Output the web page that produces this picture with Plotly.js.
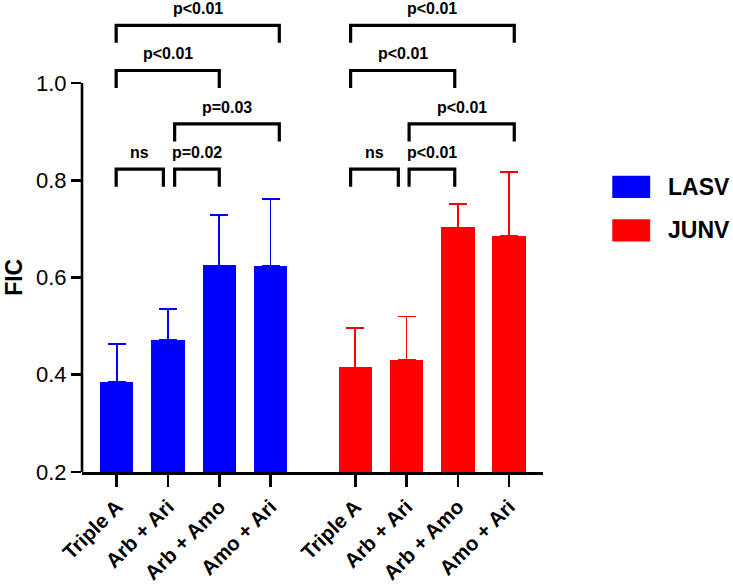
<!DOCTYPE html>
<html>
<head>
<meta charset="utf-8">
<script src="https://cdn.plot.ly/plotly-3.0.1.min.js"></script>
<style>html,body{margin:0;padding:0;background:#fff;}#chart{width:733px;height:588px;}</style>
</head>
<body>
<div id="chart"></div>
<script>
// ---- data ----
const categories = ['Triple A', 'Arb + Ari', 'Arb + Amo', 'Amo + Ari'];
const lasvFIC = [0.385, 0.472, 0.625, 0.623];
const lasvSD  = [0.079, 0.064, 0.104, 0.139];
const junvFIC = [0.415, 0.431, 0.703, 0.686];
const junvSD  = [0.081, 0.089, 0.049, 0.131];
const seriesNames = ['LASV', 'JUNV'];
const yTicks = [0.2, 0.4, 0.6, 0.8, 1.0];

// significance brackets: [xStart, xEnd, yLevel, label]
const bracketStart = [0.99, 0.99, 2.13, 0.99, 2.13, 5.56, 5.56, 6.70, 5.56, 6.70];
const bracketEnd   = [4.17, 3.00, 4.17, 1.91, 3.00, 8.75, 7.59, 8.75, 6.49, 7.59];
const bracketLevel = [1.119, 1.026, 0.916, 0.823, 0.823, 1.119, 1.026, 0.916, 0.823, 0.823];
const bracketLabel = ['p<0.01', 'p<0.01', 'p=0.03', 'ns', 'p=0.02', 'p<0.01', 'p<0.01', 'p<0.01', 'ns', 'p<0.01'];

// ---- layout helpers ----
const FONT = 'Liberation Sans, Arial, Helvetica, sans-serif';
const groupOffset = [1, 5.65];
const lasvX = categories.map((c, i) => i + groupOffset[0]);
const junvX = categories.map((c, i) => i + groupOffset[1]);
const colors = ['#0000FF', '#FF0000'];

function barTrace(x, y, err, color, name) {
  return {
    type: 'bar', x: x, y: y, name: name, width: 0.65,
    marker: {color: color, line: {width: 0}},
    error_y: {type: 'data', symmetric: false, array: err, arrayminus: err.map(() => 0),
              color: color, thickness: 1.8, width: 9},
    showlegend: false, hoverinfo: 'skip'
  };
}

const traces = [
  barTrace(lasvX, lasvFIC, lasvSD, colors[0], seriesNames[0]),
  barTrace(junvX, junvFIC, junvSD, colors[1], seriesNames[1])
];

const leg = 0.036;
const bx = [], by = [];
bracketStart.forEach((s, i) => {
  const e = bracketEnd[i], lv = bracketLevel[i];
  bx.push(s, s, e, e, null);
  by.push(lv - leg, lv, lv, lv - leg, null);
});
traces.push({type: 'scatter', mode: 'lines', x: bx, y: by,
  line: {color: '#000', width: 3.2}, showlegend: false, hoverinfo: 'skip', connectgaps: false});

const annotations = bracketLabel.map((t, i) => ({
  text: t, x: (bracketStart[i] + bracketEnd[i]) / 2, y: bracketLevel[i] + 0.034,
  xref: 'x', yref: 'y', showarrow: false, yanchor: 'middle', xanchor: 'center',
  font: {family: FONT, size: 16, color: '#000', weight: 'bold'}
}));

// y-axis title
annotations.push({text: 'FIC', x: -0.149, y: 0.6, xref: 'paper', yref: 'y', textangle: -90,
  showarrow: false, xanchor: 'center', yanchor: 'middle',
  font: {family: FONT, size: 23, color: '#000', weight: 'bold'}});

// legend (drawn manually)
const legY = [0.604, 0.512];
const shapes = [
  {type: 'line', xref: 'paper', yref: 'y', x0: 0, x1: 0, y0: 0.2, y1: 1.0,
   line: {color: '#000', width: 2.6}}
];
seriesNames.forEach((n, i) => {
  shapes.push({type: 'rect', xref: 'paper', yref: 'paper', x0: 1.1503, x1: 1.2325,
    y0: legY[i] - 0.0235, y1: legY[i] + 0.0235, fillcolor: colors[i], line: {width: 0}});
  annotations.push({text: n, xref: 'paper', yref: 'paper', x: 1.266, y: legY[i],
    xanchor: 'left', yanchor: 'middle', showarrow: false,
    font: {family: FONT, size: 23, color: '#000', weight: 'bold'}});
});

const layout = {
  width: 733, height: 588,
  margin: {l: 82, r: 190, t: 0, b: 115.5},
  paper_bgcolor: '#fff', plot_bgcolor: '#fff',
  font: {family: FONT, color: '#000'},
  bargap: 0,
  xaxis: {
    range: [0.324, 9.31], showgrid: false, zeroline: false,
    showline: true, linecolor: '#000', linewidth: 2.6,
    ticks: 'outside', ticklen: 12, tickwidth: 2.6, tickcolor: '#000',
    tickvals: lasvX.concat(junvX), ticktext: categories.concat(categories),
    tickangle: -45, tickfont: {family: FONT, size: 20.5, color: '#000', weight: 'bold'},
    fixedrange: true
  },
  yaxis: {
    range: [0.2, 1.171], showgrid: false, zeroline: false, showline: false,
    ticks: 'outside', ticklen: 10, tickwidth: 2.6, tickcolor: '#000',
    tickvals: yTicks, ticktext: yTicks.map(v => v.toFixed(1)),
    tickfont: {family: FONT, size: 22, color: '#000'},
    fixedrange: true
  },
  shapes: shapes,
  annotations: annotations,
  showlegend: false
};

Plotly.newPlot('chart', traces, layout, {staticPlot: true, displayModeBar: false});
</script>
</body>
</html>
